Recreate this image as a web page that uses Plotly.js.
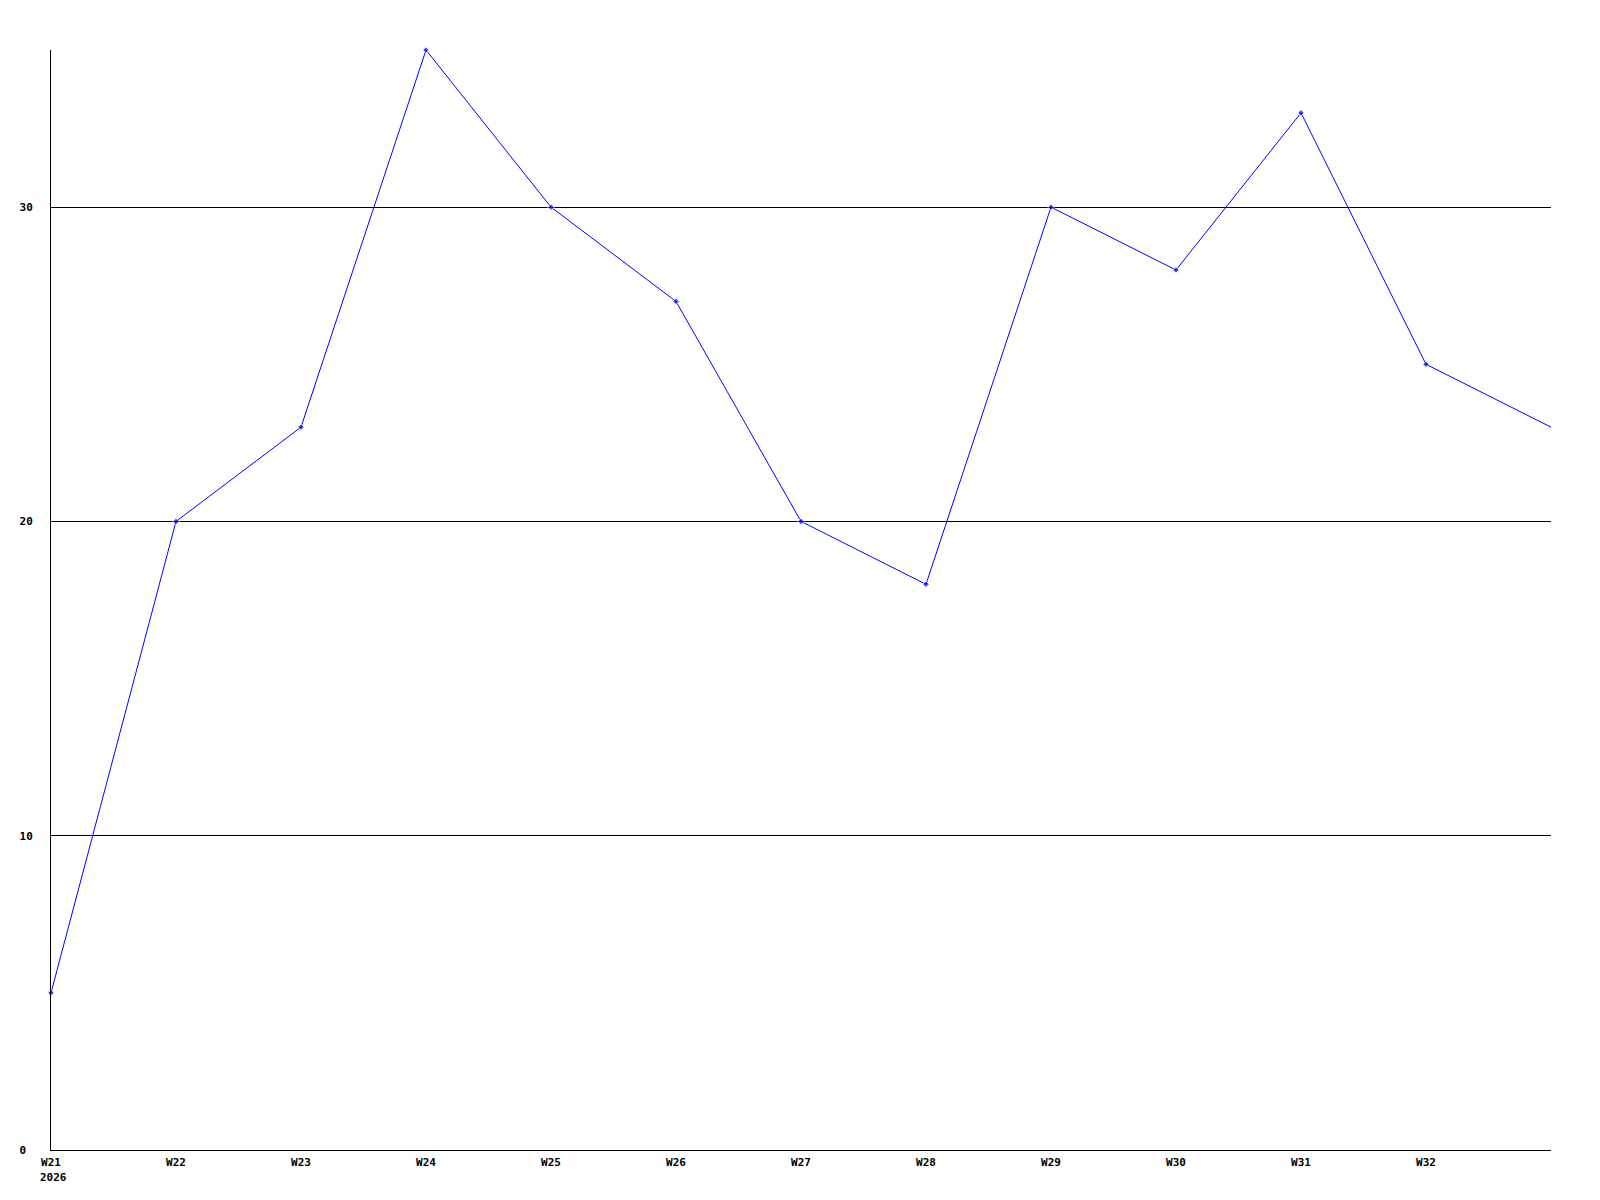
<!DOCTYPE html>
<html>
<head>
<meta charset="utf-8">
<script src="https://cdn.plot.ly/plotly-3.0.1.min.js"></script>
<style>html,body{margin:0;padding:0;background:#fff}#chart{width:1600px;height:1200px}</style>
</head>
<body>
<div id="chart"></div>
<script>
const weeks = ['W21','W22','W23','W24','W25','W26','W27','W28','W29','W30','W31','W32','W33'];
const values = [5, 20, 23, 35, 30, 27, 20, 18, 30, 28, 33, 25, 23];
const xTickLabels = ['W21','W22','W23','W24','W25','W26','W27','W28','W29','W30','W31','W32'];
const yearLabel = '2026';
const yTickVals = [0, 10, 20, 30];
const yTickText = ['0\u00a0', '10', '20', '30'];

const font = {family: '"DejaVu Sans Mono", "Liberation Mono", monospace', size: 11, color: '#000', weight: 'bold'};

const markerSizes = values.map((v, i) => i === values.length - 1 ? 0 : 5);

const trace = {
  x: weeks,
  y: values,
  type: 'scatter',
  mode: 'lines+markers',
  line: {color: '#0000ff', width: 1},
  marker: {color: '#0000ff', size: markerSizes, symbol: 'diamond'},
  cliponaxis: false,
  hoverinfo: 'x+y'
};

const layout = {
  width: 1600,
  height: 1200,
  margin: {l: 51, r: 49, t: 50, b: 50, pad: 0},
  paper_bgcolor: '#fff',
  plot_bgcolor: '#fff',
  showlegend: false,
  font: font,
  xaxis: {
    type: 'category',
    range: [0, 12],
    tickvals: xTickLabels,
    ticktext: xTickLabels,
    showgrid: false,
    zeroline: false,
    showline: true,
    linecolor: '#000',
    linewidth: 1,
    ticks: '',
    ticklabelstandoff: 2,
    tickfont: font,
    fixedrange: true
  },
  yaxis: {
    range: [0, 35],
    tickvals: yTickVals,
    ticktext: yTickText,
    showgrid: true,
    gridcolor: '#000',
    gridwidth: 1,
    zeroline: false,
    showline: true,
    linecolor: '#000',
    linewidth: 1,
    ticks: '',
    ticklabelstandoff: 15,
    tickfont: font,
    fixedrange: true
  },
  annotations: [{
    x: weeks[0], y: 0, xref: 'x', yref: 'y',
    text: yearLabel, showarrow: false,
    xanchor: 'left', yanchor: 'top',
    xshift: -13, yshift: -19,
    font: font
  }]
};

Plotly.newPlot('chart', [trace], layout, {displayModeBar: false, staticPlot: true});
</script>
</body>
</html>
